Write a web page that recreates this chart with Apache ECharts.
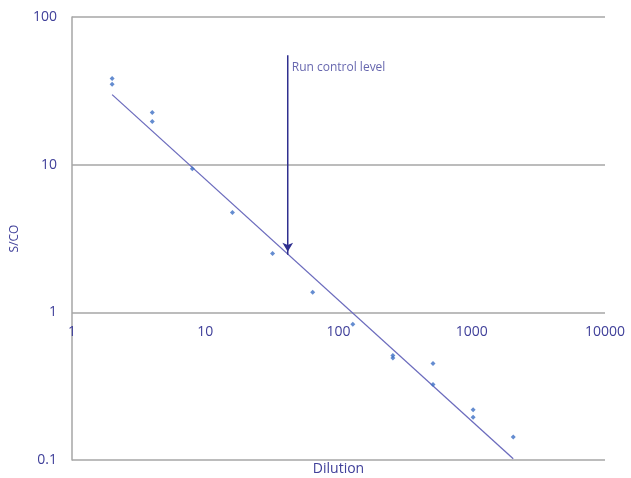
<!DOCTYPE html>
<html>
<head>
<meta charset="utf-8">
<script src="https://cdn.jsdelivr.net/npm/echarts@6/dist/echarts.min.js"></script>
<style>
  html, body { margin: 0; padding: 0; background: #ffffff; }
  #chart { width: 631px; height: 478px; }
</style>
</head>
<body>
<div id="chart"></div>
<script>
// measured points (dilution, S/CO)
const dilutions = [2, 2, 4, 4, 8, 16, 32, 64, 128, 256, 256, 512, 512, 1024, 1024, 2048];
const scoValues = [38.4, 35, 22.6, 19.6, 9.4, 4.75, 2.5, 1.37, 0.83, 0.51, 0.49, 0.45, 0.325, 0.219, 0.195, 0.143];

// power trendline end points
const trendX = [2, 2048];
const trendY = [29.8, 0.102];

// run control level arrow
const controlX = 41.6;
const arrowY = [55, 2.45];
const controlText = "Run control level";

const xTicks = [1, 10, 100, 1000, 10000];
const yTicks = [0.1, 1, 10, 100];

const textColor = "#40409a";
const gridColor = "#a6a6a6";

const fmt = (v) => {
  const r = Math.round(v * 1000) / 1000;
  return String(r);
};

let option = {
  animation: false,
  grid: { left: 72, right: 26, top: 17, bottom: 18, outerBoundsMode: "none" },
  xAxis: {
    type: "log",
    logBase: 10,
    min: xTicks[0],
    max: xTicks[xTicks.length - 1],
    position: "bottom",
    offset: -148,
    name: "Dilution",
    nameLocation: "middle",
    nameGap: 150,
    nameTextStyle: { color: textColor, fontFamily: "Open Sans", fontSize: 14 },
    axisLine: { show: false },
    axisTick: { show: false },
    splitLine: { show: false },
    axisLabel: {
      color: textColor,
      fontFamily: "Open Sans",
      fontSize: 14,
      margin: 13,
      showMinLabel: true,
      showMaxLabel: true,
      formatter: fmt,
    },
  },
  yAxis: {
    type: "log",
    logBase: 10,
    min: yTicks[0],
    max: yTicks[yTicks.length - 1],
    name: "S/CO",
    nameLocation: "middle",
    nameGap: 51,
    nameTextStyle: { color: textColor, fontFamily: "Open Sans", fontSize: 12 },
    axisLine: { show: true, lineStyle: { color: gridColor, width: 1.5 } },
    axisTick: { show: false },
    splitLine: { show: true, lineStyle: { color: gridColor, width: 1.5 } },
    axisLabel: {
      color: textColor,
      fontFamily: "Open Sans",
      fontSize: 14,
      margin: 15,
      showMinLabel: true,
      showMaxLabel: true,
      formatter: fmt,
    },
  },
  series: [
    {
      name: "trend",
      type: "line",
      data: trendX.map((x, i) => [x, trendY[i]]),
      symbol: "none",
      lineStyle: { color: "#6b6bbd", width: 1.3 },
      z: 2,
    },
    {
      name: "control",
      type: "line",
      data: arrowY.map((y) => [controlX, y]),
      symbol: "none",
      lineStyle: { color: "#2f2f8f", width: 1.5 },
      markPoint: {
        symbol: "arrow",
        symbolSize: [8, 9],
        symbolRotate: 180,
        symbolOffset: [0, -3],
        itemStyle: { color: "#2f2f8f" },
        label: { show: false },
        data: [{ coord: [controlX, arrowY[1]] }],
      },
      z: 3,
    },
    {
      name: "control label",
      type: "scatter",
      data: [[controlX, arrowY[0]]],
      symbolSize: 0,
      label: {
        show: true,
        position: "right",
        offset: [0, 12],
        distance: 4,
        formatter: controlText,
        color: textColor,
        fontFamily: "Open Sans",
        fontSize: 12,
      },
    },
    {
      name: "S/CO",
      type: "scatter",
      data: dilutions.map((x, i) => [x, scoValues[i]]),
      symbol: "diamond",
      symbolSize: 5,
      itemStyle: { color: "#3d6fc4" },
      z: 4,
    },
  ],
};

let myChart = echarts.init(document.getElementById("chart"));
myChart.setOption(option);
</script>
</body>
</html>
